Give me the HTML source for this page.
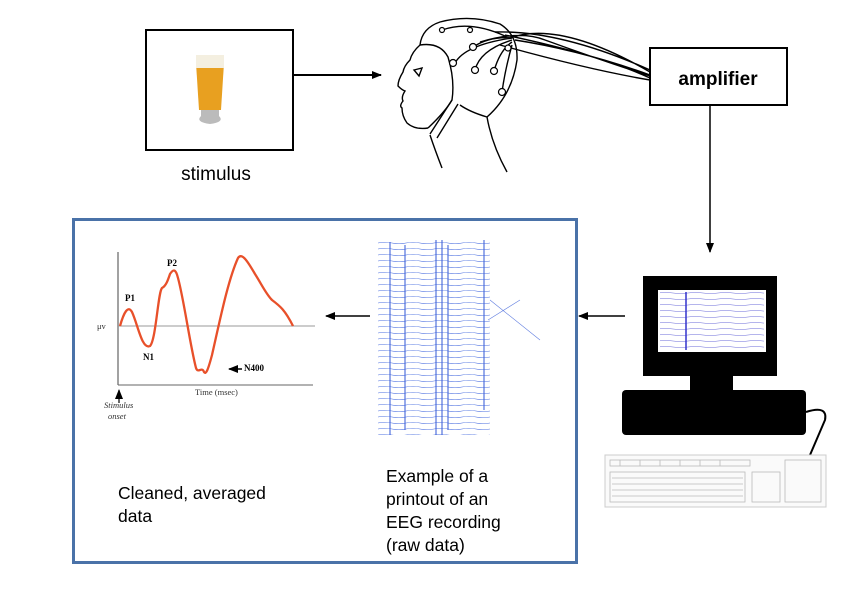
<!DOCTYPE html>
<html><head><meta charset="utf-8"><style>
body{margin:0;background:#fff;width:853px;height:610px;overflow:hidden;font-family:"Liberation Sans",sans-serif}
</style></head><body>
<svg width="853" height="610" viewBox="0 0 853 610" xmlns="http://www.w3.org/2000/svg" font-family="Liberation Sans, sans-serif">
<defs>
<marker id="ah" markerWidth="10" markerHeight="10" refX="9" refY="5" orient="auto" markerUnits="userSpaceOnUse"><path d="M0,1 L10,5 L0,9 Z" fill="#000"/></marker>
<pattern id="eeg" x="378" y="240" width="56" height="6" patternUnits="userSpaceOnUse">
<path d="M0,3 Q7,1.5 14,3 Q21,4.5 28,3 Q35,1.5 42,3 Q49,4.5 56,3" fill="none" stroke="#4a6ee0" stroke-width="0.6"/>
</pattern>
<pattern id="eeg2" x="658" y="290" width="30" height="6" patternUnits="userSpaceOnUse">
<path d="M0,3 Q7.5,1.5 15,3 Q22.5,4.5 30,3" fill="none" stroke="#6a6ad8" stroke-width="0.5"/>
</pattern>
</defs>
<!-- stimulus box -->
<rect x="146" y="30" width="147" height="120" fill="#fff" stroke="#000" stroke-width="2"/>
<path d="M196,63 L224,63 L221,110 L199,110 Z" fill="#e8a020"/>
<path d="M196,55 L224,55 L224,68 L196,68 Z" fill="#f4efe0"/>
<path d="M201,110 L219,110 L219,116 Q225,122 210,124 Q195,122 201,116 Z" fill="#bbb"/>
<text x="216" y="180" font-size="19" text-anchor="middle">stimulus</text>
<line x1="293" y1="75" x2="381" y2="75" stroke="#000" stroke-width="2" marker-end="url(#ah)"/>
<!-- head -->
<g fill="none" stroke="#000" stroke-width="1.4">
<path d="M420,45 Q422,28 440,22 Q470,14 500,24 Q518,35 517,60 Q512,95 487,117 Q470,112 460,105"/>
<path d="M420,45 Q412,52 410,60 Q404,66 403,72 Q398,80 398,86 Q402,90 405,91 Q401,97 403,101 Q399,106 402,108 Q402,116 407,123 Q415,130 428,128"/>
<path d="M420,45 Q440,42 448,57 Q455,80 452,100 Q445,112 428,128"/>
<path d="M414,70 L422,68 L419,76 Z"/>
<path d="M430,135 Q435,150 442,168"/>
<path d="M487,117 Q492,145 507,172"/>
<path d="M452,100 L430,134 M458,104 L437,138"/>
<path d="M515,40 Q580,50 650,75 M510,38 Q560,20 650,72 M505,35 Q600,55 650,78 M500,45 Q590,70 650,80 M495,32 Q560,30 650,70 M480,42 Q520,30 545,40 Q600,60 650,76"/>
<path d="M455,63 Q465,45 512,38 M475,70 Q480,50 512,40 M494,71 Q500,50 512,42 M473,47 Q490,36 512,38 M442,30 Q470,20 505,36 M502,92 Q505,70 512,45"/>
</g>
<g fill="#fff" stroke="#000" stroke-width="1.2">
<circle cx="453" cy="63" r="3.5"/><circle cx="475" cy="70" r="3.5"/><circle cx="494" cy="71" r="3.5"/><circle cx="473" cy="47" r="3.5"/><circle cx="502" cy="92" r="3.5"/><circle cx="508" cy="48" r="3"/><circle cx="442" cy="30" r="2.5"/><circle cx="470" cy="30" r="2.5"/>
</g>
<!-- amplifier -->
<rect x="650" y="48" width="137" height="57" fill="#fff" stroke="#000" stroke-width="2"/>
<text x="718" y="85" font-size="19" font-weight="bold" text-anchor="middle">amplifier</text>
<line x1="710" y1="105" x2="710" y2="252" stroke="#000" stroke-width="1.5" marker-end="url(#ah)"/>
<!-- computer -->
<rect x="643" y="276" width="134" height="100" fill="#000"/>
<rect x="658" y="290" width="108" height="62" fill="#fff"/>
<rect x="660" y="292" width="104" height="58" fill="url(#eeg2)"/>
<path d="M686,292 V350" stroke="#3333cc" stroke-width="1.5"/>
<rect x="690" y="375" width="43" height="16" fill="#000"/>
<rect x="622" y="390" width="184" height="45" rx="4" fill="#000"/>
<path d="M806,412 Q828,405 825,420 L810,455" fill="none" stroke="#000" stroke-width="2"/>
<rect x="605" y="455" width="221" height="52" fill="#fafafa" stroke="#ccc"/>
<g fill="none" stroke="#bbb" stroke-width="0.8"><rect x="610" y="460" width="140" height="6"/><rect x="610" y="472" width="135" height="30"/><rect x="752" y="472" width="28" height="30"/><rect x="785" y="460" width="36" height="42"/>
<path d="M612,478 H743 M612,484 H743 M612,490 H743 M612,496 H743 M620,460 V466 M640,460 V466 M660,460 V466 M680,460 V466 M700,460 V466 M720,460 V466"/></g>
<line x1="625" y1="316" x2="579" y2="316" stroke="#000" stroke-width="1.5" marker-end="url(#ah)"/>
<!-- blue box -->
<rect x="73.5" y="219.5" width="503" height="343" fill="#fff" stroke="#4a72a8" stroke-width="3"/>
<!-- EEG printout -->
<rect x="378" y="240" width="112" height="195" fill="url(#eeg)"/>
<g stroke="#3a5ed8" stroke-width="1.3" fill="none" opacity="0.8">
<path d="M390,242 V435 M405,245 V430 M436,240 V435 M442,240 V435 M448,245 V430 M484,240 V410"/>
<path d="M490,300 L540,340 M488,320 L520,300" stroke-width="0.6"/>
</g>
<line x1="370" y1="316" x2="326" y2="316" stroke="#000" stroke-width="1.5" marker-end="url(#ah)"/>
<!-- ERP graph -->
<g fill="none">
<line x1="118" y1="252" x2="118" y2="385" stroke="#444" stroke-width="1"/>
<line x1="118" y1="326" x2="315" y2="326" stroke="#999" stroke-width="1"/>
<line x1="118" y1="385" x2="313" y2="385" stroke="#666" stroke-width="1"/>
<path d="M120,326 C124,312 128,305 132,312 C138,325 142,350 150,346 C156,340 158,292 162,288 C166,286 168,280 170,274 C174,268 176,270 178,278 C184,300 190,345 196,368 C198,374 202,366 204,372 C206,375 208,370 212,355 C220,320 228,280 238,258 C242,252 248,262 255,274 C262,285 266,294 272,300 C280,306 285,310 293,326" stroke="#e8502a" stroke-width="2.3"/>
<line x1="242" y1="369" x2="229" y2="369" stroke="#000" stroke-width="1.5" marker-end="url(#ah)"/>
<line x1="119" y1="403" x2="119" y2="390" stroke="#000" stroke-width="1.2" marker-end="url(#ah)"/>
</g>
<g font-family="Liberation Serif, serif" font-size="9" font-weight="bold">
<text x="125" y="301">P1</text><text x="167" y="266">P2</text><text x="143" y="360">N1</text><text x="244" y="371">N400</text>
</g>
<g font-family="Liberation Serif, serif" font-size="8.5" fill="#333">
<text x="97" y="329">μv</text><text x="195" y="395">Time (msec)</text>
<text x="104" y="408" font-style="italic">Stimulus</text><text x="108" y="419" font-style="italic">onset</text>
</g>
<text font-size="17.5"><tspan x="118" y="499">Cleaned, averaged</tspan><tspan x="118" y="522">data</tspan></text>
<text font-size="17.5"><tspan x="386" y="482">Example of a</tspan><tspan x="386" y="505">printout of an</tspan><tspan x="386" y="528">EEG recording</tspan><tspan x="386" y="551">(raw data)</tspan></text>
</svg>
</body></html>
